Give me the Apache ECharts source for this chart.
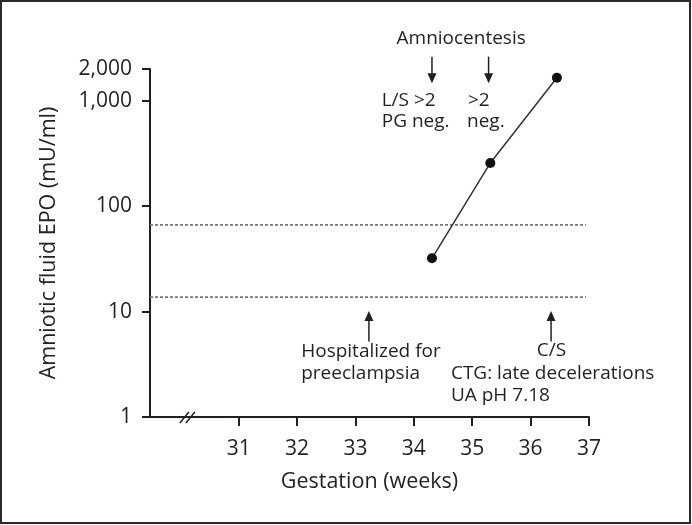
<!DOCTYPE html>
<html>
<head>
<meta charset="utf-8">
<script src="https://cdn.jsdelivr.net/npm/echarts@6/dist/echarts.min.js"></script>
<style>
html,body{margin:0;padding:0;background:#fff;}
#chart{width:692px;height:525px;}
</style>
</head>
<body>
<div id="chart"></div>
<script>
// ---- data ----
const xTicks = [31, 32, 33, 34, 35, 36, 37];
const yTicks = [1, 10, 100, 1000, 2000];
const weeks = [34.31, 35.31, 36.45];
const epo = [32, 257, 1650];
const refHigh = 66.5;
const refLow = 13.7;
const xRange = [29.48, 37];
const refEnd = 36.95;
// annotation arrows: [x, fromValue, toValue]
const arrowsDown = [[34.31, 2620, 1466], [35.28, 2620, 1466]];
const arrowsUp = [[33.23, 5.2, 10.1], [36.35, 5.2, 10.1]];
// annotation texts: [text, x, value, align]
const notes = [
  ['Amniocentesis', 34.81, 3918, 'center'],
  ['L/S >2', 33.449, 995, 'left'],
  ['PG neg.', 33.449, 629, 'left'],
  ['>2', 34.926, 995, 'left'],
  ['neg.', 34.91, 629, 'left'],
  ['Hospitalized for', 32.07, 4.2, 'left'],
  ['preeclampsia', 32.07, 2.6, 'left'],
  ['C/S', 36.358, 4.25, 'center'],
  ['CTG: late decelerations', 34.635, 2.6, 'left'],
  ['UA pH 7.18', 34.635, 1.6, 'left']
];
const breakAt = 30.12;

const FONT = '"Open Sans", sans-serif';
const INK = '#231f20';

const chart = echarts.init(document.getElementById('chart'), null, {renderer: 'canvas'});
const option = {
  animation: false,
  backgroundColor: '#fff',
  grid: {left: 150, right: 103, top: 69, bottom: 108, show: false},
  xAxis: {
    type: 'value', min: xRange[0], max: xRange[1],
    name: 'Gestation (weeks)', nameLocation: 'middle', nameGap: 54,
    nameTextStyle: {fontFamily: FONT, fontSize: 21.5, color: INK},
    axisLine: {lineStyle: {color: INK, width: 2}},
    axisTick: {show: true, length: 9, lineStyle: {color: INK, width: 2}, customValues: xTicks},
    axisLabel: {fontFamily: FONT, fontSize: 21, color: INK, margin: 22, customValues: xTicks},
    splitLine: {show: false}
  },
  yAxis: {
    type: 'log', logBase: 10, min: yTicks[0], max: yTicks[yTicks.length - 1],
    name: 'Amniotic fluid EPO (mU/ml)', nameLocation: 'middle', nameGap: 90,
    nameTextStyle: {fontFamily: FONT, fontSize: 21.5, color: INK},
    axisLine: {lineStyle: {color: INK, width: 2}},
    axisTick: {show: true, length: 8, lineStyle: {color: INK, width: 2}, customValues: yTicks},
    axisLabel: {fontFamily: FONT, fontSize: 21, color: INK, margin: 18, customValues: yTicks,
      formatter: v => Math.round(v).toLocaleString('en-US')},
    splitLine: {show: false}
  },
  series: [
    {type: 'line', data: [[xRange[0], refHigh], [refEnd, refHigh]], symbol: 'none',
     lineStyle: {color: '#777', width: 1.6, type: [3, 2]}, silent: true},
    {type: 'line', data: [[xRange[0], refLow], [refEnd, refLow]], symbol: 'none',
     lineStyle: {color: '#777', width: 1.6, type: [3, 2]}, silent: true},
    {type: 'line', data: weeks.map((w, i) => [w, epo[i]]), symbol: 'circle', symbolSize: 10,
     lineStyle: {color: '#333', width: 1.5}, itemStyle: {color: '#111'}}
  ]
};
chart.setOption(option);

function px(x, v) { return chart.convertToPixel({gridIndex: 0}, [x, v]); }
const g = [];
g.push({type: 'rect', shape: {x: 1, y: 1, width: 689, height: 522},
  style: {fill: 'none', stroke: '#2a2a2a', lineWidth: 2}, z: 100});
function arrow(x, vFrom, vTo) {
  const a = px(x, vFrom), b = px(x, vTo);
  const dir = b[1] > a[1] ? 1 : -1;
  const headL = 10, headW = 4.5;
  g.push({type: 'line', shape: {x1: a[0], y1: a[1], x2: b[0], y2: b[1] - dir * headL + dir},
    style: {stroke: INK, lineWidth: 1.5}});
  g.push({type: 'polygon', shape: {points: [[b[0] - headW, b[1] - dir * headL], [b[0] + headW, b[1] - dir * headL], [b[0], b[1]]]},
    style: {fill: INK}});
}
arrowsDown.forEach(a => arrow(a[0], a[1], a[2]));
arrowsUp.forEach(a => arrow(a[0], a[1], a[2]));
notes.forEach(n => {
  const p = px(n[1], n[2]);
  g.push({type: 'text', x: p[0], y: p[1],
    style: {text: n[0], fontFamily: FONT, fontSize: 19, fill: INK, align: n[3], verticalAlign: 'middle'}});
});
// axis break marks
const bp = px(breakAt, yTicks[0]);
[-3, 3].forEach(d => {
  g.push({type: 'line', shape: {x1: bp[0] + d - 4.5, y1: bp[1] + 6, x2: bp[0] + d + 4.5, y2: bp[1] - 5},
    style: {stroke: INK, lineWidth: 1.5}});
});
chart.setOption({graphic: g});
</script>
</body>
</html>
